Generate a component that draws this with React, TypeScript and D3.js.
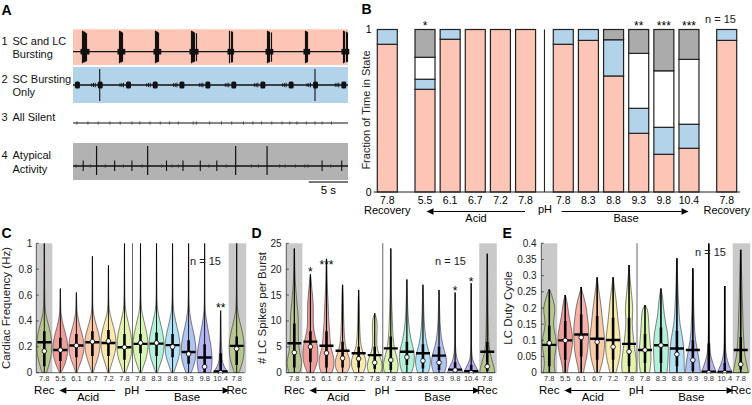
import React from "react";
import * as d3 from "d3";

const FONT = "'Liberation Sans', Arial, Helvetica, sans-serif";

// ---------------- Panel A : example traces ----------------
const stateNames = [
  ["1", "SC and LC", "Bursting"],
  ["2", "SC Bursting", "Only"],
  ["3", "All Silent", ""],
  ["4", "Atypical", "Activity"],
];
const traceDuration = 35; // seconds shown
const scaleBarSec = 5;
const row1Bursts = [1.1, 5.8, 10.4, 15.0, 19.9, 24.7, 29.5, 34.4];
const row1SpikeCounts = [5, 4, 4, 5, 3, 4, 3, 4];
const row1SpikeUp = [1, 0.97, 0.95, 0.92, 0.88];
const row1SpikeDown = [0.55, 0.52, 0.5, 0.48, 0.45];
const row2Bursts = [0.5, 3.4, 7.0, 10.4, 13.8, 17.1, 20.4, 24.1, 27.7, 30.8, 34.4];
const row2BigSpikes = [3.4, 30.8];
const row3Ticks = [0.5, 1.9, 3.2, 4.7, 6.0, 7.5, 8.5, 9.8, 11.1, 12.3, 13.4, 15.3, 15.7, 17.4, 18.9, 20.2, 21.7, 22.9, 24.0, 25.3, 26.6, 27.6, 28.5, 29.7, 30.8, 31.7, 32.9];
const row4BigSpikes = [3.0, 9.5, 20.7, 24.7];
const row4MidSpikes = [1.3, 5.3, 7.5, 11.9, 14.0, 16.2, 18.3, 31.7, 34.2];
const row4SmallTicks = [0.4, 2.2, 4.1, 6.4, 8.8, 11.3, 12.6, 13.4, 17.3, 19.5, 22.7, 23.6, 26.3, 27.0, 28.3, 29.5, 29.9, 32.8];

// ---------------- Panel B : fraction of time in state ----------------
const bCats = ["7.8", "5.5", "6.1", "6.7", "7.2", "7.8", "7.8", "8.3", "8.8", "9.3", "9.8", "10.4", "7.8"];
const bGroup = [0, 1, 1, 1, 1, 1, 2, 2, 2, 2, 2, 2, 3];
const bBoth = [0.909, 0.632, 0.94, 1, 1, 1, 0.909, 0.933, 0.714, 0.361, 0.232, 0.269, 0.933];
const bSCOnly = [0.091, 0.062, 0.06, 0, 0, 0, 0.091, 0.067, 0.223, 0.154, 0.166, 0.148, 0.067];
const bSilent = [0, 0.135, 0, 0, 0, 0, 0, 0, 0, 0.338, 0.348, 0.399, 0];
const bAtypical = [0, 0.171, 0, 0, 0, 0, 0, 0, 0.063, 0.147, 0.254, 0.184, 0];
const bStars = ["", "*", "", "", "", "", "", "", "", "**", "***", "***", ""];

// ---------------- Panels C-E : violins ----------------
const pHLabels = ["7.8", "5.5", "6.1", "6.7", "7.2", "7.8", "7.8", "8.3", "8.8", "9.3", "9.8", "10.4", "7.8"];
const violinColors = ["#B5C786", "#EC8E8A", "#F3A598", "#F7C29A", "#F8E59D", "#E0F0A0", "#D2F3A7", "#A7EFD4", "#A6DCF3", "#A3B8EF", "#A9A7F0", "#A5A3EE", "#B5C786"];

// C: cardiac frequency (Hz)
const cfLevels = [0, 0.05, 0.1, 0.15, 0.2, 0.25, 0.3, 0.35, 0.4, 0.45, 0.5, 0.6, 0.7, 0.8, 0.9, 1.0];
const cfWidths = [
  [0.3, 0.55, 0.8, 0.95, 1, 0.97, 0.85, 0.65, 0.4, 0.2, 0.1, 0.05, 0.04, 0.03, 0.03, 0.02],
  [0.1, 0.5, 0.8, 0.97, 1, 0.9, 0.7, 0.45, 0.25, 0.1, 0.05, 0.02, 0, 0, 0, 0],
  [0.1, 0.35, 0.7, 0.95, 1, 0.95, 0.75, 0.5, 0.3, 0.12, 0.06, 0.02, 0, 0, 0, 0],
  [0.1, 0.35, 0.65, 0.9, 1, 1, 0.85, 0.6, 0.35, 0.15, 0.06, 0.03, 0.02, 0.02, 0.01, 0],
  [0.1, 0.3, 0.6, 0.85, 1, 1, 0.9, 0.7, 0.45, 0.2, 0.08, 0.03, 0.02, 0.02, 0, 0],
  [0.15, 0.45, 0.75, 0.95, 1, 0.95, 0.85, 0.65, 0.45, 0.25, 0.1, 0.04, 0.03, 0.02, 0.02, 0.02],
  [0.1, 0.4, 0.7, 0.9, 1, 0.97, 0.85, 0.65, 0.45, 0.25, 0.1, 0.04, 0.03, 0.02, 0.02, 0.02],
  [0.1, 0.4, 0.7, 0.9, 1, 0.97, 0.85, 0.65, 0.45, 0.25, 0.1, 0.04, 0.03, 0.02, 0.02, 0.02],
  [0.15, 0.45, 0.75, 0.95, 1, 0.95, 0.8, 0.6, 0.4, 0.22, 0.1, 0.04, 0.03, 0.02, 0.02, 0.02],
  [0.35, 0.65, 0.9, 1, 0.97, 0.85, 0.7, 0.5, 0.32, 0.18, 0.08, 0.04, 0.03, 0.02, 0.02, 0.02],
  [0.8, 0.95, 1, 0.95, 0.85, 0.7, 0.55, 0.4, 0.25, 0.12, 0.05, 0.03, 0.02, 0.02, 0.02, 0.02],
  [1, 0.4, 0.15, 0.2, 0.12, 0.08, 0.06, 0.05, 0.05, 0.02, 0, 0, 0, 0, 0, 0],
  [0.3, 0.6, 0.85, 0.97, 1, 0.95, 0.8, 0.6, 0.38, 0.2, 0.08, 0.04, 0.03, 0.02, 0.02, 0.02],
];
const cfMean = [0.235, 0.175, 0.21, 0.235, 0.23, 0.197, 0.223, 0.225, 0.213, 0.16, 0.118, 0.01, 0.207];
const cfMedian = [0.167, 0.175, 0.21, 0.24, 0.245, 0.197, 0.23, 0.23, 0.2, 0.145, 0.046, 0, 0.185];
const cfQ1 = [0.05, 0.09, 0.12, 0.13, 0.13, 0.1, 0.15, 0.13, 0.12, 0.07, 0, 0, 0.06];
const cfQ3 = [0.32, 0.27, 0.3, 0.32, 0.33, 0.3, 0.3, 0.31, 0.3, 0.25, 0.22, 0.15, 0.28];
const cfMax = [1, 0.65, 0.62, 0.9, 0.83, 1, 1, 1, 1, 1, 1, 0.48, 1];
const cfStars: [number, string, number][] = [[11, "**", 0.523]];
const cfTicks = [0, 0.2, 0.4, 0.6, 0.8, 1];

// D: LC spikes per burst
const spLevels = [0, 1, 2, 3, 4, 5, 6, 8, 10, 12, 14, 16, 18, 20, 22, 24];
const spWidths = [
  [0.7, 0.9, 1.0, 0.85, 0.7, 0.6, 0.55, 0.5, 0.55, 0.45, 0.3, 0.2, 0.1, 0.06, 0.04, 0.03],
  [0.4, 0.7, 0.9, 1, 1, 0.95, 0.8, 0.45, 0.35, 0.4, 0.35, 0.2, 0.1, 0.03, 0, 0],
  [0.7, 0.95, 1, 0.95, 0.75, 0.55, 0.5, 0.4, 0.3, 0.25, 0.2, 0.12, 0.08, 0.05, 0.03, 0],
  [0.6, 0.95, 1, 0.85, 0.6, 0.4, 0.3, 0.2, 0.15, 0.12, 0.1, 0.05, 0, 0, 0, 0],
  [0.6, 0.9, 1, 0.85, 0.55, 0.35, 0.25, 0.15, 0.12, 0.1, 0.06, 0.03, 0, 0, 0, 0],
  [0.8, 1, 0.95, 0.7, 0.45, 0.3, 0.25, 0.3, 0.35, 0, 0, 0, 0, 0, 0, 0],
  [0.8, 1, 0.95, 0.8, 0.6, 0.45, 0.35, 0.25, 0.2, 0.15, 0.1, 0.06, 0.05, 0.04, 0.03, 0.02],
  [0.6, 0.85, 0.95, 1, 0.95, 0.8, 0.6, 0.35, 0.2, 0.12, 0.08, 0.05, 0, 0, 0, 0],
  [0.7, 0.9, 1, 0.95, 0.8, 0.6, 0.45, 0.25, 0.15, 0.1, 0.07, 0.04, 0, 0, 0, 0],
  [0.7, 0.95, 1, 0.95, 0.75, 0.55, 0.4, 0.2, 0.12, 0.08, 0.05, 0.03, 0, 0, 0, 0],
  [1, 0.8, 0.4, 0.2, 0.1, 0.06, 0.04, 0.03, 0.02, 0.02, 0.02, 0, 0, 0, 0, 0],
  [1, 0.7, 0.3, 0.12, 0.06, 0.04, 0.03, 0.03, 0.02, 0.02, 0.02, 0.02, 0, 0, 0, 0],
  [1, 0.9, 0.7, 0.5, 0.35, 0.25, 0.2, 0.15, 0.12, 0.1, 0.08, 0.06, 0.05, 0.04, 0.03, 0.02],
];
const spMean = [5.7, 6.0, 5.2, 4.25, 3.75, 3.4, 4.7, 4.05, 3.75, 3.3, 0.6, 0.3, 4.05];
const spMedian = [3.9, 5.0, 3.8, 2.8, 2.7, 1.95, 2.45, 3.0, 2.3, 1.95, 0.5, 0, 1.2];
const spQ1 = [1, 2, 1, 1, 1, 0.7, 0.5, 1.5, 0.8, 0.5, 0, 0, 0.3];
const spQ3 = [9.5, 8, 8, 6, 5, 5, 7, 6, 5.5, 5, 2, 1.5, 6];
const spMax = [24, 19, 22, 17, 16, 11.5, 24, 18, 17, 16, 15.5, 17.3, 23];
const spStars: [number, string, number][] = [[1, "*", 20.0], [2, "***", 21.4], [10, "*", 16.3], [11, "*", 18.0]];
const spTicks = [0, 5, 10, 15, 20, 25];

// E: LC duty cycle
const dcLevels = [0, 0.025, 0.05, 0.075, 0.1, 0.125, 0.15, 0.175, 0.2, 0.225, 0.25, 0.3, 0.35, 0.4];
const dcWidths = [
  [0.8, 0.6, 0.7, 0.9, 0.95, 0.7, 0.5, 0.65, 0.8, 0.5, 0.2, 0, 0, 0],
  [0.3, 0.4, 0.7, 0.9, 1, 0.9, 0.7, 0.5, 0.35, 0.2, 0.05, 0, 0, 0],
  [0.3, 0.5, 0.75, 0.9, 0.95, 1, 0.95, 0.8, 0.7, 0.45, 0.15, 0, 0, 0],
  [0.3, 0.6, 0.85, 0.95, 1, 0.9, 0.75, 0.65, 0.55, 0.4, 0.25, 0.05, 0, 0],
  [0.4, 0.65, 0.9, 1, 0.95, 0.85, 0.7, 0.6, 0.5, 0.4, 0.25, 0.05, 0, 0],
  [0.9, 1, 0.9, 0.75, 0.6, 0.5, 0.4, 0.45, 0.5, 0.4, 0.3, 0.1, 0, 0],
  [0.6, 0.75, 0.8, 0.75, 0.65, 0.55, 0.5, 0.45, 0.3, 0, 0, 0, 0, 0],
  [0.8, 0.9, 0.95, 1, 0.95, 0.85, 0.65, 0.45, 0.35, 0.25, 0.1, 0, 0, 0],
  [1, 0.95, 0.95, 0.9, 0.8, 0.6, 0.4, 0.3, 0.25, 0.2, 0.15, 0.08, 0.03, 0],
  [1, 0.9, 0.75, 0.55, 0.35, 0.25, 0.2, 0.15, 0.12, 0.1, 0.08, 0.05, 0.02, 0],
  [1, 0.6, 0.25, 0.12, 0.08, 0.06, 0.05, 0.04, 0.04, 0.03, 0.03, 0.02, 0.02, 0.02],
  [1, 0.5, 0.2, 0.1, 0.06, 0.05, 0.04, 0.03, 0.03, 0.02, 0.02, 0, 0, 0],
  [1, 0.8, 0.55, 0.45, 0.4, 0.35, 0.3, 0.28, 0.25, 0.2, 0.18, 0.12, 0.05, 0],
];
const dcMean = [0.086, 0.1, 0.118, 0.105, 0.101, 0.089, 0.07, 0.085, 0.075, 0.07, 0.003, 0.002, 0.07];
const dcMedian = [0.092, 0.1, 0.109, 0.095, 0.08, 0.065, 0.07, 0.085, 0.057, 0.039, 0, 0, 0.026];
const dcQ1 = [0.02, 0.04, 0.05, 0.04, 0.04, 0.02, 0.03, 0.03, 0.02, 0.005, 0, 0, 0.01];
const dcQ3 = [0.145, 0.16, 0.18, 0.175, 0.17, 0.17, 0.12, 0.14, 0.13, 0.1, 0.09, 0.03, 0.11];
const dcMax = [0.258, 0.24, 0.265, 0.295, 0.295, 0.333, 0.209, 0.26, 0.354, 0.323, 0.4, 0.268, 0.38];
const dcTicks = [0, 0.05, 0.1, 0.15, 0.2, 0.25, 0.3, 0.35, 0.4];

const PINK = "#FCC5B5";
const BLUE = "#B3D3EA";
const GRAY = "#B2B2B2";

function Arrow({ x1, x2, y }: { x1: number; x2: number; y: number }) {
  const dir = Math.sign(x2 - x1);
  const hl = 7;
  return (
    <g>
      <line x1={x1} y1={y} x2={x2 - dir * hl} y2={y} stroke="#000" strokeWidth={1} />
      <path d={`M${x2},${y} L${x2 - dir * hl},${y - 3.2} L${x2 - dir * hl},${y + 3.2} Z`} fill="#000" />
    </g>
  );
}

type VP = {
  letter: string; letterX: number;
  left: number; right: number; tickX: number;
  yMax: number; ticks: number[]; fmt: (v: number) => string;
  label: string; labelX: number; labelSize: number;
  nX: number; nY: number; whisker: number;
  levels: number[]; widths: number[][];
  means: number[]; medians: number[]; q1: number[]; q3: number[]; maxes: number[];
  stars: [number, string, number][];
};

function ViolinPanel(p: VP) {
  const yTop = 243.3, yBot = 372.7;
  const x = d3.scaleLinear().domain([-0.5, 12.5]).range([p.left, p.right]);
  const y = d3.scaleLinear().domain([0, p.yMax]).range([yBot, yTop]);
  const hw = 7.6;
  const clipId = "clip" + p.letter;
  const area = d3.area<[number, number]>().curve(d3.curveBasis);
  return (
    <g>
      <defs>
        <clipPath id={clipId}>
          <rect x={p.left - 2} y={yTop} width={p.right - p.left + 6} height={yBot - yTop + 1} />
        </clipPath>
      </defs>
      <text x={p.letterX} y={237.5} fontSize={14} fontWeight="bold">{p.letter}</text>
      <rect x={x(-0.5)} y={yTop} width={x(0.5) - x(-0.5)} height={yBot - yTop} fill="#C9C9C9" />
      <rect x={x(11.5)} y={yTop} width={x(12.5) - x(11.5) + 1.5} height={yBot - yTop} fill="#C9C9C9" />
      <line x1={x(5.5)} x2={x(5.5)} y1={yTop} y2={yBot} stroke="#666" strokeWidth={1} />
      <g clipPath={`url(#${clipId})`}>
        {pHLabels.map((_, i) => {
          const cx = x(i);
          const top = p.maxes[i];
          const pts: [number, number][] = [];
          p.levels.forEach((lv, k) => { if (lv < top) pts.push([lv, p.widths[i][k]]); });
          pts.push([top, 0]);
          const d = area
            .y((d) => y(d[0]))
            .x0((d) => cx - d[1] * hw)
            .x1((d) => cx + d[1] * hw)(pts) as string;
          return (
            <g key={i}>
              <path d={d} fill={violinColors[i]} fillOpacity={0.85} stroke="#333" strokeWidth={0.6} />
              <line x1={cx} x2={cx} y1={y(0)} y2={y(top)} stroke="#000" strokeWidth={p.whisker} />
              <line x1={cx} x2={cx} y1={y(p.q1[i])} y2={y(p.q3[i])} stroke="#000" strokeWidth={2.6} />
              <line x1={cx - 7} x2={cx + 7} y1={y(p.means[i])} y2={y(p.means[i])} stroke="#000" strokeWidth={2.4} />
              <circle cx={cx} cy={y(p.medians[i])} r={2.3} fill="#fff" stroke="#000" strokeWidth={0.8} />
            </g>
          );
        })}
      </g>
      <line x1={p.left} x2={p.left} y1={yTop} y2={yBot} stroke="#333" strokeWidth={0.8} />
      <line x1={p.left} x2={p.right} y1={yBot} y2={yBot} stroke="#333" strokeWidth={0.8} />
      {p.ticks.map((t) => (
        <g key={t}>
          <line x1={p.left} x2={p.left + 2.5} y1={y(t)} y2={y(t)} stroke="#333" strokeWidth={0.8} />
          <text x={p.tickX} y={y(t) + 3.5} fontSize={10} textAnchor="end" fill="#222">{p.fmt(t)}</text>
        </g>
      ))}
      <text
        transform={`translate(${p.labelX},${308}) rotate(-90)`}
        fontSize={p.labelSize}
        textAnchor="middle"
        fill="#222"
      >{p.label}</text>
      <text x={p.nX} y={p.nY} fontSize={11} fill="#222">n = 15</text>
      {p.stars.map(([i, s, v]) => (
        <text key={i} x={x(i)} y={y(v) + 6.8} fontSize={12} textAnchor="middle">{s}</text>
      ))}
      {pHLabels.map((l, i) => (
        <text key={i} x={x(i)} y={380.8} fontSize={7.5} textAnchor="middle" fill="#333">{l}</text>
      ))}
      <text x={x(0)} y={393.8} fontSize={11.5} textAnchor="middle">Rec</text>
      <text x={x(12)} y={393.8} fontSize={11.5} textAnchor="middle">Rec</text>
      <Arrow x1={x(4.42)} x2={x(0.94)} y={390.5} />
      <Arrow x1={x(6.29)} x2={x(11.55)} y={390.5} />
      <text x={x(2.73)} y={400.8} fontSize={11.5} textAnchor="middle">Acid</text>
      <text x={x(5.46)} y={393.8} fontSize={11.5} textAnchor="middle">pH</text>
      <text x={x(8.9)} y={400.8} fontSize={11.5} textAnchor="middle">Base</text>
    </g>
  );
}

function spikePath(xs: number[], yUp: number, yDown: number, xT: d3.ScaleLinear<number, number>) {
  return xs.map((t) => `M${xT(t)},${yUp} L${xT(t)},${yDown}`).join(" ");
}

export default function App() {
  // ---- Panel A
  const xT = d3.scaleLinear().domain([0, traceDuration]).range([73, 348]);
  const rows = [
    { top: 29.3, bot: 65, line: 51.7, fill: PINK },
    { top: 67, bot: 103, line: 85, fill: BLUE },
    { top: 0, bot: 0, line: 123, fill: "none" },
    { top: 143, bot: 180, line: 166, fill: GRAY },
  ];
  const labelBase = [[45, 57.5], [83, 96], [120.7, 0], [159.3, 172.7]];

  const r1 = rows[0];
  const r1Spikes: string[] = [];
  const r1Blobs: JSX.Element[] = [];
  row1Bursts.forEach((b, bi) => {
    for (let j = 0; j < row1SpikeCounts[bi]; j++) {
      const xx = Math.round(xT(b) + j * 1.2) + 0.5;
      r1Spikes.push(`M${xx},${r1.line - 21 * row1SpikeUp[j]} L${xx},${r1.line + 21 * row1SpikeDown[j]}`);
    }
    r1Blobs.push(
      <rect key={bi} x={Math.round(xT(b)) - 1.5} y={r1.line - 2.8} width={row1SpikeCounts[bi] * 1.2 + 3} height={5.6} fill="#111" />
    );
  });

  const r2 = rows[1];
  const r2Blobs: JSX.Element[] = [];
  row2Bursts.forEach((b, bi) => {
    const xx = xT(b);
    const pre = [8, 6.2, 4.5].filter((o) => xx - o > 73.5);
    r2Blobs.push(
      <g key={bi}>
        <rect x={Math.max(73, xx - 2)} y={r2.line - 3.5} width={5} height={7} rx={1.5} fill="#111" />
        {pre.map((o, k) => (
          <line key={k} x1={xx - o} x2={xx - o} y1={r2.line - 1.8 - k * 0.25} y2={r2.line + 1.8 + k * 0.25} stroke="#111" strokeWidth={0.9} />
        ))}
      </g>
    );
  });

  // ---- Panel B
  const xB = d3.scaleLinear().domain([0, 13.5]).range([387.3, 726.7]);
  const yB = d3.scaleLinear().domain([0, 1]).range([192, 29.5]);
  const bTable = bCats.map((c, i) => ({ i, both: bBoth[i], sc: bSCOnly[i], silent: bSilent[i], atyp: bAtypical[i] }));
  const stack = d3.stack<any>().keys(["both", "sc", "silent", "atyp"])(bTable);
  const stateFill = [PINK, BLUE, "#FFFFFF", "#ABABAB"];
  const pos = (i: number) => i + 0.5 * bGroup[i];
  const barW = 20;

  return (
    <svg width={752} height={405} style={{ position: "absolute", left: 0, top: 0, fontFamily: FONT }}>
      <rect width={752} height={405} fill="#fff" />
      {/* ---------- A ---------- */}
      <text x={1.5} y={15} fontSize={14} fontWeight="bold">A</text>
      {rows.map((r, i) => (
        <g key={i}>
          {r.fill !== "none" && <rect x={73} y={r.top} width={275} height={r.bot - r.top} fill={r.fill} />}
          <line x1={73} x2={348} y1={r.line} y2={r.line} stroke="#111" strokeWidth={i === 2 ? 1 : 1.3} />
          <text x={1.5} y={labelBase[i][0]} fontSize={11} fill="#111">{stateNames[i][0]}</text>
          <text x={12.5} y={labelBase[i][0]} fontSize={11} fill="#111">{stateNames[i][1]}</text>
          {stateNames[i][2] && <text x={12.5} y={labelBase[i][1]} fontSize={11} fill="#111">{stateNames[i][2]}</text>}
        </g>
      ))}
      <path d={r1Spikes.join(" ")} stroke="#111" strokeWidth={1.15} fill="none" />
      {r1Blobs}
      {r2Blobs}
      <path d={spikePath(row2BigSpikes, r2.line - 16, r2.line + 16, xT)} stroke="#111" strokeWidth={1.1} />
      <path d={spikePath(row3Ticks, rows[2].line - 1.6, rows[2].line + 1.6, xT)} stroke="#333" strokeWidth={0.8} />
      <path d={spikePath(row4SmallTicks, rows[3].line - 1.8, rows[3].line + 1.8, xT)} stroke="#333" strokeWidth={0.8} />
      <path d={spikePath(row4MidSpikes, rows[3].line - 5.5, rows[3].line + 5, xT)} stroke="#111" strokeWidth={1.1} />
      <path d={spikePath(row4BigSpikes, rows[3].line - 20, rows[3].line + 9, xT)} stroke="#111" strokeWidth={1.2} />
      <line x1={xT(traceDuration - scaleBarSec)} x2={xT(traceDuration)} y1={182} y2={182} stroke="#777" strokeWidth={2} />
      <text x={(xT(traceDuration - scaleBarSec) + xT(traceDuration)) / 2} y={194} fontSize={11.5} textAnchor="middle">5 s</text>

      {/* ---------- B ---------- */}
      <text x={361.5} y={13.5} fontSize={14} fontWeight="bold">B</text>
      {stack.map((s, si) =>
        s.map((seg, i) => {
          if (seg[1] - seg[0] <= 0) return null;
          return (
            <rect key={si + "-" + i} x={xB(pos(i)) - barW / 2} y={yB(seg[1])} width={barW} height={yB(seg[0]) - yB(seg[1])}
              fill={stateFill[si]} stroke="#222" strokeWidth={1.2} />
          );
        })
      )}
      <line x1={xB(6.25)} x2={xB(6.25)} y1={29.5} y2={192} stroke="#111" strokeWidth={1} />
      <line x1={373.5} x2={740} y1={192} y2={192} stroke="#222" strokeWidth={1} />
      <text x={371.5} y={33} fontSize={10.5} textAnchor="end">1</text>
      <text x={371.5} y={195.5} fontSize={10.5} textAnchor="end">0</text>
      <text transform={`translate(${369.5},${110}) rotate(-90)`} fontSize={11} textAnchor="middle" fill="#222">Fraction of Time in State</text>
      {bStars.map((s, i) => s && (
        <text key={i} x={xB(pos(i))} y={29.5} fontSize={12} textAnchor="middle">{s}</text>
      ))}
      <text x={705} y={23.3} fontSize={11} fill="#222">n = 15</text>
      {bCats.map((c, i) => (
        <text key={i} x={xB(pos(i))} y={203.5} fontSize={10.5} textAnchor="middle">{c}</text>
      ))}
      <text x={xB(0)} y={214} fontSize={11} textAnchor="middle">Recovery</text>
      <text x={xB(13.5)} y={214} fontSize={11} textAnchor="middle">Recovery</text>
      <Arrow x1={525} x2={426.5} y={211.5} />
      <Arrow x1={561.5} x2={688.5} y={211.5} />
      <text x={476} y={221.5} fontSize={11} textAnchor="middle">Acid</text>
      <text x={545} y={213} fontSize={11} textAnchor="middle">pH</text>
      <text x={626} y={221.5} fontSize={11} textAnchor="middle">Base</text>

      {/* ---------- C, D, E ---------- */}
      <ViolinPanel letter="C" letterX={1.5} left={36.3} right={244.7} tickX={32.3} whisker={0.9}
        yMax={1} ticks={cfTicks} fmt={(v) => (v === 0 || v === 1 ? String(v) : v.toFixed(1))}
        label="Cardiac Frequency (Hz)" labelX={9.5} labelSize={11.5} nX={190} nY={265}
        levels={cfLevels} widths={cfWidths} means={cfMean} medians={cfMedian} q1={cfQ1} q3={cfQ3} maxes={cfMax} stars={cfStars} />
      <ViolinPanel letter="D" letterX={251.5} left={286.3} right={495.3} tickX={281.7} whisker={1.2}
        yMax={25} ticks={spTicks} fmt={(v) => String(v)}
        label="# LC Spikes per Burst" labelX={266} labelSize={11.5} nX={435} nY={265}
        levels={spLevels} widths={spWidths} means={spMean} medians={spMedian} q1={spQ1} q3={spQ3} maxes={spMax} stars={spStars} />
      <ViolinPanel letter="E" letterX={502.5} left={541.3} right={748.7} tickX={536.7} whisker={1.6}
        yMax={0.4} ticks={dcTicks} fmt={(v) => (v === 0 ? "0" : String(+v.toFixed(2)))}
        label="LC Duty Cycle" labelX={512} labelSize={11.5} nX={695} nY={256}
        levels={dcLevels} widths={dcWidths} means={dcMean} medians={dcMedian} q1={dcQ1} q3={dcQ3} maxes={dcMax} stars={[]} />
    </svg>
  );
}
